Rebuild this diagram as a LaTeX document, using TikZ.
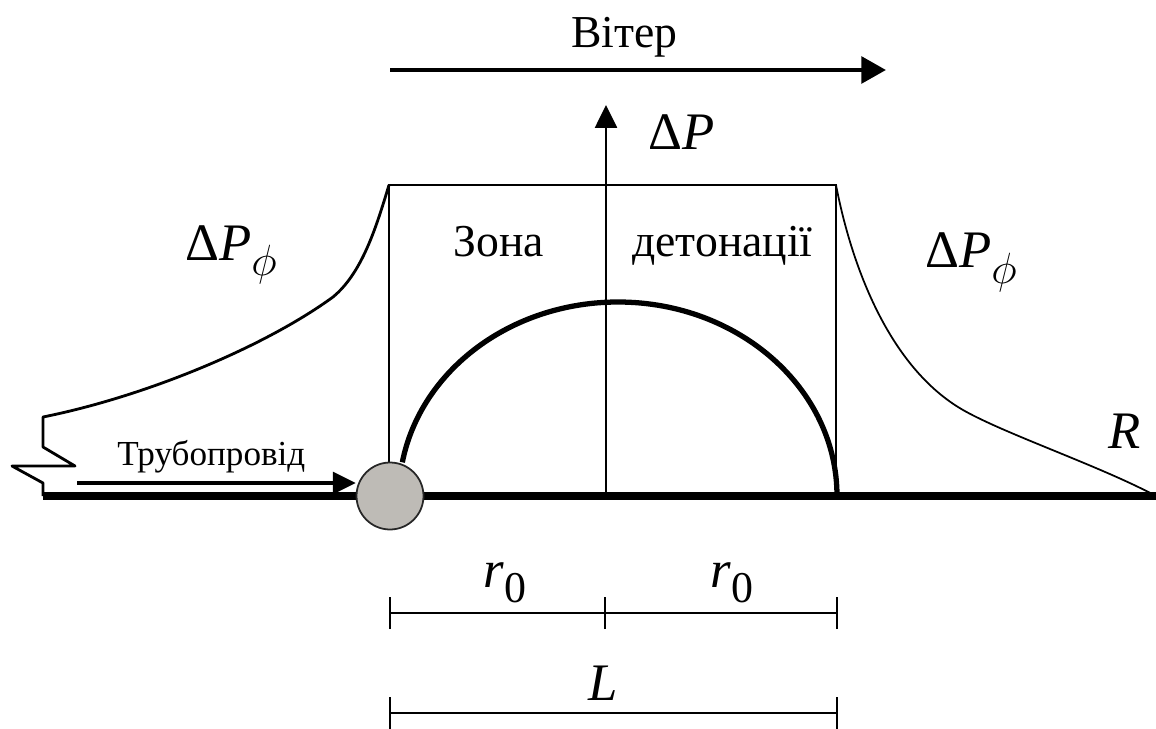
\documentclass[tikz,border=0pt]{standalone}
\usepackage{fontspec}
\setmainfont{Liberation Serif}
\usetikzlibrary{arrows.meta, positioning}
\definecolor{sourcegrey}{RGB}{190,187,182}

\begin{document}
\begin{tikzpicture}[x=0.02cm, y=0.02cm,
    txt/.style={font=\fontsize{26}{30}\selectfont, anchor=base west, inner sep=0pt},
    mth/.style={font=\fontsize{30}{34}\selectfont, anchor=base west, inner sep=0pt},
    bar/.style={line width=1.5pt},
    tip/.style={-{Triangle[length=13pt, width=12.5pt]}}]
  \useasboundingbox (0,0) rectangle (1156,728);
  % Ground
  \coordinate (gl) at (43,232);
  \coordinate (gr) at (1156,232);
  \coordinate (o) at (606,232);
  \coordinate (axtop) at (606,623);
  \draw[line width=5pt] (gl) -- (gr);
  % Detonation zone
  \draw[line width=1.5pt] (389,232) -- (389,543) -- (836,543) -- (836,232);
  \draw[line width=3pt] (837,232) arc[start angle=0, end angle=170, x radius=219, y radius=194];
  \draw[tip, line width=1.3pt] (o) -- (axtop);
  \node[mth] (dp) at (648,578) {Δ\textit{P}};
  \node[txt] (zone) at (453,472) {Зона};
  \node[txt] (deton) at (632,472) {детонації};
  % Front pressure
  \draw[line width=1.6pt, line join=round] (389,543) .. controls (376,500) and (362,455) .. (333,431)
    .. controls (263,380) and (143,331) .. (43,311)
    -- (43,281) -- (75,262) -- (12,262) -- (43,245) -- (gl);
  \draw[line width=1pt] (836,543) .. controls (852,460) and (890,360) .. (963,318)
    .. controls (1005,294) and (1100,262) .. (1156,232);
  \node[mth] (dpl) at (185,468) {Δ\textit{P}\raisebox{-0.3em}{\fontsize{24}{26}\selectfont$\phi$}};
  \node[mth] (dpr) at (925,460) {Δ\textit{P}\raisebox{-0.3em}{\fontsize{24}{26}\selectfont$\phi$}};
  \node[mth] (rr) at (1108,280) {\textit{R}};
  % Wind
  \coordinate (wa) at (390,658);
  \coordinate (wb) at (886,658);
  \draw[-{Triangle[length=14pt, width=15pt]}, line width=2.6pt] (wa) -- (wb);
  \node[txt] (wind) at (571,680) {Вітер};
  % Pipeline
  \coordinate (pipe) at (77,245);
  \node[circle, draw=black!85, line width=1pt, fill=sourcegrey, minimum size=1.34cm, inner sep=0pt] (src) at (390,232) {};
  \draw[tip, line width=1.8pt] (pipe) -- (pipe -| src.west);
  \node[txt, font=\fontsize{20}{24}\selectfont] (pipelbl) at (117,263) {Трубопровід};
  % Dimensions
  \draw[bar] (390,115) -- (837,115);
  \foreach \x in {390,605,837} \draw[bar] (\x,99) -- (\x,131);
  \node[mth] (r1) at (483,141) {\textit{r}\raisebox{-0.3em}{\fontsize{25}{28}\selectfont 0}};
  \node[mth] (r2) at (710,141) {\textit{r}\raisebox{-0.3em}{\fontsize{25}{28}\selectfont 0}};
  \draw[bar] (390,15) -- (837,15);
  \foreach \x in {390,837} \draw[bar] (\x,-8) -- (\x,31);
  \node[mth] (ll) at (588,28) {\textit{L}};
\end{tikzpicture}
\end{document}
